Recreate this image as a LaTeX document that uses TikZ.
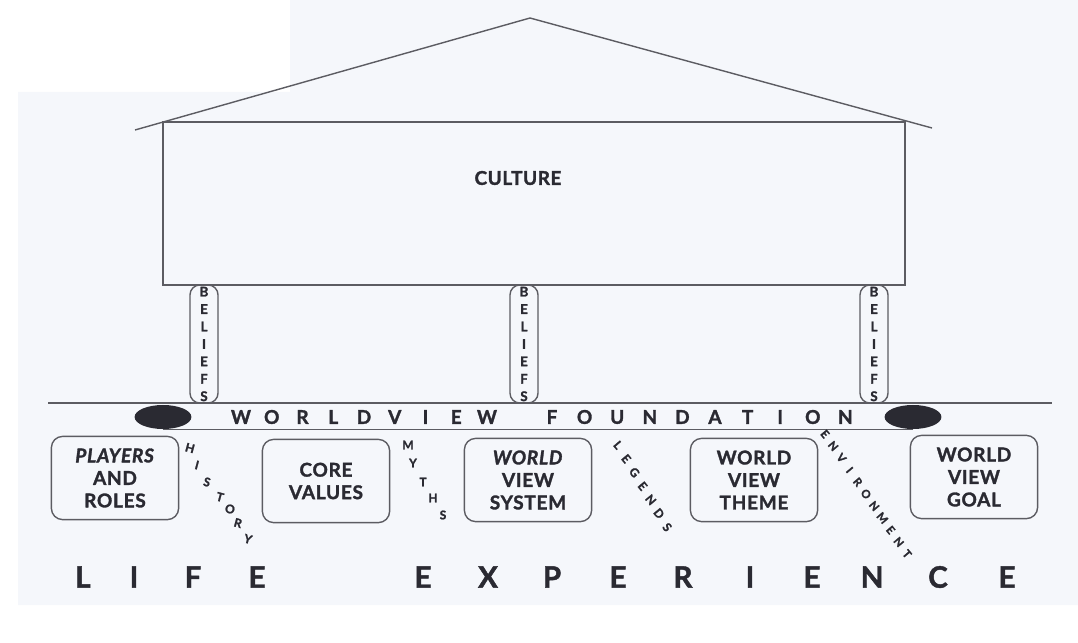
\documentclass[tikz,border=0pt]{standalone}
\usepackage{fontspec}
\setmainfont{Lato}[BoldFeatures={FakeBold=1.6}, BoldItalicFeatures={FakeBold=1.6}]
\usetikzlibrary{positioning, shapes.geometric}
\definecolor{inkgray}{RGB}{42,42,50}
\definecolor{linegray}{RGB}{92,92,98}
\definecolor{pagetint}{RGB}{245,247,251}

\begin{document}
\begin{tikzpicture}[
    x=0.025cm, y=-0.025cm,
    every node/.style={text=inkgray},
    outline/.style={draw=linegray, line width=1pt},
    pillar/.style={outline, rounded corners=7pt, minimum width=0.7cm, minimum height=2.95cm, inner sep=0pt, align=center, font=\fontsize{9.5}{12.4}\selectfont\bfseries},
    block/.style={outline, rounded corners=8pt, minimum width=3.18cm, minimum height=2.08cm, align=center, font=\fontsize{13.5}{16}\selectfont\bfseries\addfontfeatures{LetterSpace=4}},
    blob/.style={ellipse, fill=inkgray, minimum width=1.42cm, minimum height=0.6cm, inner sep=0pt},
    bandletter/.style={font=\fontsize{13.5}{13.5}\selectfont\bfseries, inner sep=0pt},
    slantletter/.style={font=\fontsize{8.5}{8.5}\selectfont\bfseries, inner sep=0pt},
    bigletter/.style={font=\fontsize{21}{21}\selectfont\bfseries, inner sep=0pt}
]
\useasboundingbox (0,0) rectangle (1078,643);
\fill[pagetint] (290,0) -- (1078,0) -- (1078,605) -- (18,605) -- (18,92) -- (290,92) -- cycle;
\draw[outline] (135,130) -- (530,18) -- (932,128);
\node[outline, minimum width=18.55cm, minimum height=4.08cm, inner sep=0pt] (house) at (534,203.5) {};
\node[font=\fontsize{13.5}{13.5}\selectfont\bfseries\addfontfeatures{LetterSpace=3}] (culture) at (518,178) {CULTURE};
\foreach \px/\nm in {204/left, 524/middle, 874/right} {
    \node[pillar] (beliefs\nm) at (\px,344) {B\\E\\L\\I\\E\\F\\S};
}
\coordinate (bandstart) at (48,403);
\coordinate (bandend) at (1052,403);
\draw[outline] (bandstart) -- (bandend);
\node[blob] (blobleft) at (163,417) {};
\node[blob] (blobright) at (913,417) {};
\draw[outline] (blobleft.south) -- (blobright.south);
\foreach \ch [count=\i from 0] in {W,O,R,L,D,V,I,E,W} {
    \node[bandletter] (world\i) at ({241+30.75*\i},417) {\ch};
}
\foreach \ch [count=\i from 0] in {F,O,U,N,D,A,T,I,O,N} {
    \node[bandletter] (found\i) at ({552+32.6*\i},417) {\ch};
}
\node[block] (players) at (115,478) {\textit{PLAYERS}\\AND\\ROLES};
\node[block] (core) at (326,481) {CORE\\VALUES};
\node[block] (system) at (528,480) {\textit{WORLD}\\VIEW\\SYSTEM};
\node[block] (theme) at (754,480) {WORLD\\VIEW\\THEME};
\node[block] (goal) at (974,477) {WORLD\\VIEW\\GOAL};
\foreach \ch/\lx/\ly [count=\i] in {H/190/448, I/197/465, S/207/482, T/220/497, O/230/509, R/238/523, Y/248/539} {
    \node[slantletter, rotate=-15] (history\i) at (\lx,\ly) {\ch};
}
\foreach \ch/\lx/\ly [count=\i] in {M/408/445, Y/413/463, T/423/482, H/433/498, S/443/515} {
    \node[slantletter] (myths\i) at (\lx,\ly) {\ch};
}
\foreach \ch [count=\i from 0] in {L,E,G,E,N,D,S} {
    \node[slantletter, rotate=-50] (legends\i) at ({618+8.2*\i},{445+13.7*\i}) {\ch};
}
\foreach \ch [count=\i from 0] in {E,N,V,I,R,O,N,M,E,N,T} {
    \node[slantletter, font=\fontsize{8}{8}\selectfont\bfseries, rotate=-50] (environment\i) at ({825+8.2*\i},{434+12*\i}) {\ch};
}
\foreach \ch/\lx [count=\i] in {L/83, I/134, F/193, E/257, E/423, X/488, P/552, E/618, R/683, I/750, E/812, N/872, C/938, E/1007} {
    \node[bigletter] (life\i) at (\lx,577) {\ch};
}
\end{tikzpicture}
\end{document}
